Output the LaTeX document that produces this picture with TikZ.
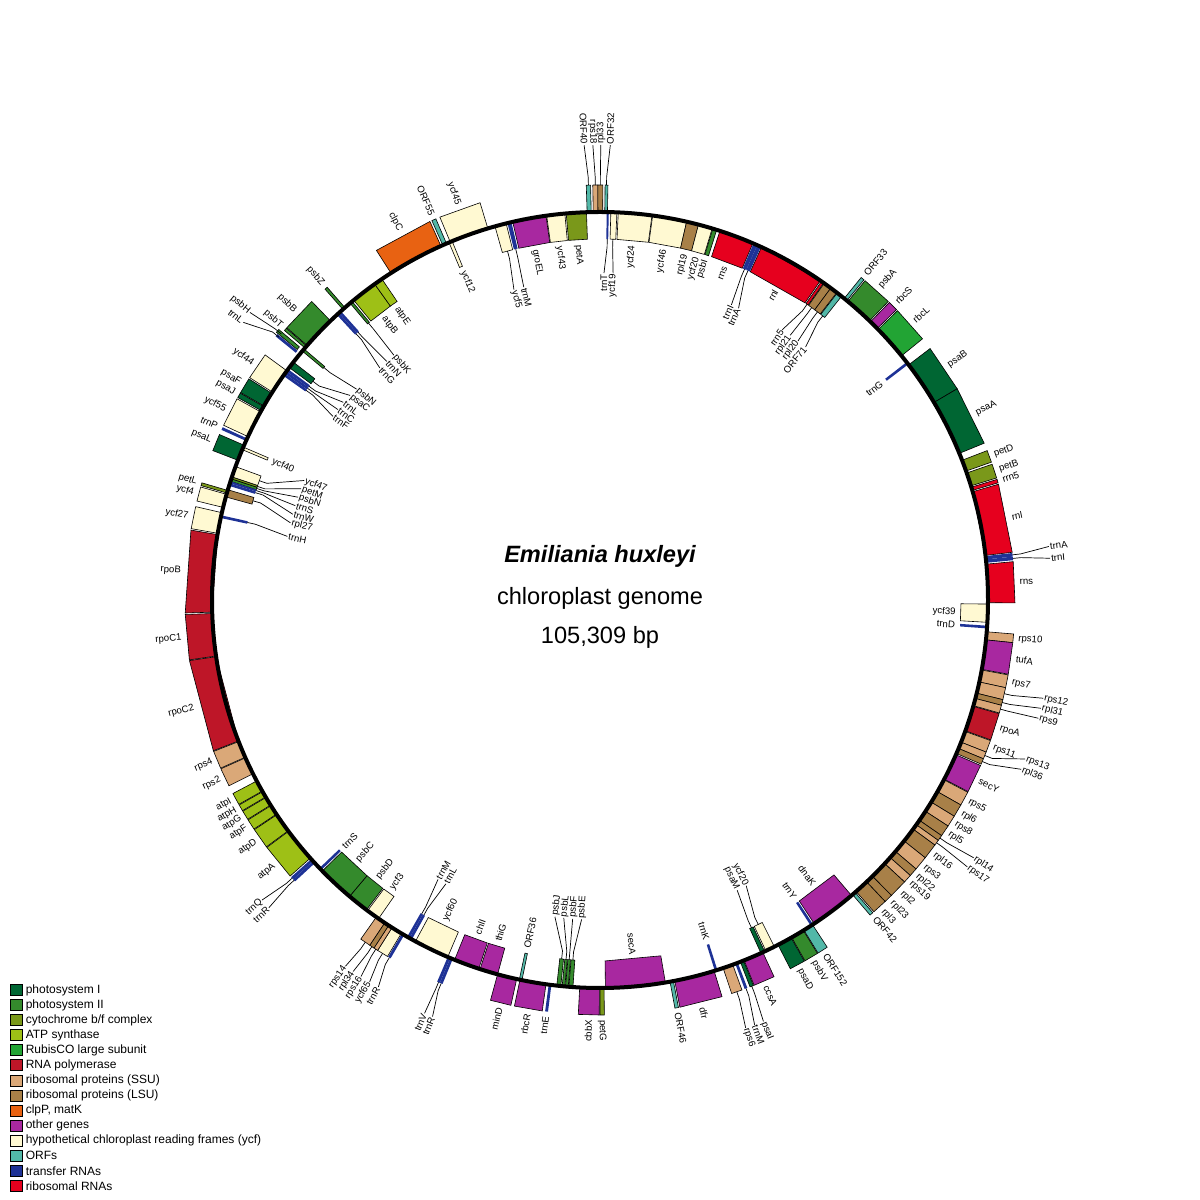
\documentclass[tikz,border=0pt]{standalone}
\usepackage{fontspec}
\setmainfont{Liberation Sans}
\usetikzlibrary{positioning}

\definecolor{psIgreen}{RGB}{0,102,51}
\definecolor{psIIgreen}{RGB}{52,138,44}
\definecolor{cytolive}{RGB}{122,152,26}
\definecolor{atplime}{RGB}{158,192,22}
\definecolor{rubgreen}{RGB}{34,164,52}
\definecolor{rnapred}{RGB}{190,22,40}
\definecolor{ssutan}{RGB}{218,168,120}
\definecolor{lsubrown}{RGB}{168,128,72}
\definecolor{clporange}{RGB}{232,98,18}
\definecolor{otherpurple}{RGB}{168,40,160}
\definecolor{ycfcream}{RGB}{255,249,210}
\definecolor{orfteal}{RGB}{82,184,168}
\definecolor{trnablue}{RGB}{30,50,150}
\definecolor{rrnared}{RGB}{230,0,30}

\tikzset{
  gbox/.style={draw=black, line width=0.3pt},
  glabel/.style={font=\fontsize{4.8}{5}\selectfont, inner sep=0.4pt},
  leader/.style={line width=0.35pt},
  legbox/.style={draw=black, line width=0.35pt, minimum width=6pt, minimum height=5.5pt, inner sep=0pt},
  legtext/.style={font=\fontsize{6}{7}\selectfont, inner sep=0pt},
  titletext/.style={font=\fontsize{11.8}{14}\selectfont},
}

\begin{document}
\begin{tikzpicture}[x=0.5pt, y=0.5pt]
  \useasboundingbox (0,0) rectangle (1200,1200);

  \begin{scope}[shift={(600,600)}]
    % genes (start/end angle, side, colour)
    \foreach \gA/\gB/\gS/\gC in {
      1.6/2.5/-1/ycfcream, 2.7/7.7/-1/ycfcream, 7.8/12.9/-1/ycfcream, 12.9/14.7/-1/lsubrown,
      14.7/16.8/-1/ycfcream, 16.9/17.5/-1/psIIgreen, 18.0/23.2/-1/rrnared, 24.6/34.6/-1/rrnared,
      34.8/35.2/-1/rrnared, 35.3/36.5/-1/lsubrown, 36.5/37.6/-1/lsubrown, 37.7/38.5/-1/orfteal,
      39.0/39.5/1/orfteal, 39.7/44.0/1/psIIgreen, 44.2/45.6/1/otherpurple, 45.8/51.0/1/rubgreen,
      52.7/59.4/1/psIgreen, 59.4/67.8/1/psIgreen, 68.9/70.6/1/cytolive, 70.9/72.9/1/cytolive,
      73.1/73.6/1/rrnared, 73.8/83.4/1/rrnared, 84.7/90.4/1/rrnared, 90.6/93.3/-1/ycfcream,
      94.7/95.9/1/ssutan, 95.9/100.3/1/otherpurple, 100.4/102.2/1/ssutan, 102.2/103.9/1/ssutan,
      103.9/104.7/1/lsubrown, 104.7/105.8/1/ssutan, 105.9/109.7/1/rnapred, 109.8/111.5/1/ssutan,
      111.5/112.5/1/ssutan, 112.5/113.3/1/lsubrown, 113.5/117.5/1/otherpurple,
      117.6/119.6/1/ssutan, 119.6/121.4/1/lsubrown, 121.4/123.0/1/ssutan, 123.0/124.6/1/lsubrown,
      124.6/125.4/1/lsubrown, 125.4/126.2/1/ssutan, 126.2/128.4/1/lsubrown, 128.4/130.4/1/ssutan,
      130.4/131.6/1/lsubrown, 131.6/132.8/1/ssutan, 132.8/135.4/1/lsubrown, 135.4/136.6/1/lsubrown,
      136.6/138.7/1/lsubrown, 138.9/139.4/1/orfteal, 139.6/146.5/-1/otherpurple,
      146.8/148.3/1/orfteal, 148.4/150.4/1/psIIgreen, 150.5/152.7/1/psIgreen,
      153.3/154.7/-1/ycfcream, 154.9/155.5/-1/psIgreen, 155.2/158.2/1/otherpurple,
      158.3/158.8/1/psIgreen, 160.0/161.5/1/ssutan, 162.9/168.9/1/otherpurple,
      169.1/169.6/1/orfteal, 170.3/179.2/-1/otherpurple, 179.4/180.0/1/cytolive,
      180.1/183.0/1/otherpurple, 184.0/184.6/-1/psIIgreen, 184.7/185.1/-1/psIIgreen,
      185.2/185.6/-1/psIIgreen, 185.8/186.4/-1/psIIgreen, 188.0/191.9/1/otherpurple,
      191.6/192.0/-1/orfteal, 192.4/195.3/1/otherpurple, 195.3/198.0/-1/otherpurple,
      198.2/202.0/-1/otherpurple, 203.1/208.4/-1/ycfcream, 210.8/212.4/1/ycfcream,
      212.4/213.0/1/ssutan, 213.0/213.7/1/lsubrown, 213.7/215.2/1/ssutan, 214.8/216.8/-1/ycfcream,
      217.0/220.2/-1/psIIgreen, 220.2/225.7/-1/psIIgreen, 228.3/233.4/1/atplime,
      233.5/236.4/1/atplime, 236.5/238.0/1/atplime, 238.1/239.4/1/atplime, 239.5/240.4/1/atplime,
      240.5/242.2/1/atplime, 243.4/246.0/1/ssutan, 246.1/248.6/1/ssutan, 248.7/261.6/1/rnapred,
      261.7/268.0/1/rnapred, 268.2/279.7/1/rnapred, 279.9/283.0/1/ycfcream, 283.8/285.8/1/ycfcream,
      285.4/286.5/-1/lsubrown, 286.0/286.4/1/cytolive, 287.8/288.2/-1/psIIgreen,
      288.2/288.5/-1/cytolive, 288.5/290.1/-1/ycfcream, 291.1/293.5/1/psIgreen,
      292.8/293.2/-1/ycfcream, 294.9/299.0/1/ycfcream, 299.2/299.9/1/psIgreen,
      300.0/302.2/1/psIgreen, 302.4/306.2/1/ycfcream, 306.8/307.8/-1/psIgreen,
      309.9/310.3/-1/psIIgreen, 310.5/310.9/1/psIIgreen, 311.0/316.0/1/psIIgreen,
      318.5/318.9/1/psIIgreen, 319.9/320.3/-1/psIIgreen, 320.6/324.5/-1/atplime,
      324.5/325.8/-1/atplime, 327.4/335.8/1/clporange, 336.1/336.7/1/orfteal,
      337.1/337.6/-1/ycfcream, 337.3/343.2/1/ycfcream, 344.3/346.0/-1/ycfcream,
      347.0/352.0/-1/otherpurple, 352.1/354.8/-1/ycfcream, 355.0/358.0/-1/cytolive,
      358.1/358.7/1/orfteal, 359.0/359.7/1/ssutan, 359.7/360.4/1/lsubrown, 0.7/1.1/1/orfteal}{
      \pgfmathsetmacro\rr{388+27*\gS}
      \filldraw[gbox, fill=\gC] (90-\gA:388) -- (90-\gB:388) -- (90-\gB:\rr) -- (90-\gA:\rr) -- cycle;
    }

    % transfer RNAs
    \foreach \gA/\gB/\gS in {
      23.3/23.9/-1, 23.9/24.5/-1, 52.2/52.6/-1, 83.5/84.0/1, 84.0/84.5/1, 93.8/94.2/-1,
      146.7/147.1/-1, 159.2/159.6/1, 162.4/162.8/-1, 187.2/187.6/1, 202.3/202.7/1, 202.7/203.1/1,
      209.0/209.4/-1, 209.4/209.8/-1, 210.3/210.7/1, 225.9/226.3/-1, 227.3/227.7/1, 227.7/228.1/1,
      282.2/282.6/-1, 287.1/287.5/-1, 287.5/287.8/-1, 294.2/294.6/1, 305.3/305.7/-1,
      305.7/306.1/-1, 306.1/306.5/-1, 317.3/317.7/-1, 317.7/318.1/-1, 346.2/346.8/-1, 1.0/1.3/-1}{
      \pgfmathsetmacro\rr{388+27*\gS}
      \fill[trnablue] (90-\gA:388) -- (90-\gB:388) -- (90-\gB:\rr) -- (90-\gA:\rr) -- cycle;
    }
    % stacked genes outside the ring
    \fill[trnablue] (90-309.1:392) -- (90-309.5:392) -- (90-309.5:418) -- (90-309.1:418) -- cycle;
    \filldraw[gbox, fill=psIIgreen] (90-309.6:393) -- (90-310.1:393) -- (90-310.1:420) -- (90-309.6:420) -- cycle;

    % ring
    \draw[line width=2pt] (0,0) circle (388);

    % labels next to their genes
    \foreach \m/\s/\t [count=\i] in {
      5.2/-1/ycf24, 10.35/-1/ycf46, 13.8/-1/rpl19, 15.75/-1/ycf20, 17.2/-1/psbI, 20.6/-1/rns,
      29.6/-1/rnl, 39.25/1/ORF33, 41.85/1/psbA, 44.9/1/rbcS, 48.4/1/rbcL, 52.4/-1/trnG,
      56.05/1/psaB, 63.6/1/psaA, 69.75/1/petD, 71.9/1/petB, 73.35/1/rrn5, 78.6/1/rnl,
      87.55/1/rns, 91.95/-1/ycf39, 94.0/-1/trnD, 95.3/1/rps10, 98.1/1/tufA, 101.3/1/rps7,
      107.8/1/rpoA, 110.6/1/rps11, 115.5/1/secY, 118.6/1/rps5, 120.5/1/rpl6, 122.2/1/rps8,
      123.8/1/rpl5, 127.3/1/rpl16, 129.4/1/rps3, 131.0/1/rpl22, 132.3/1/rps19, 134.1/1/rpl2,
      136.0/1/rpl23, 137.65/1/rpl3, 139.15/1/ORF42, 143.05/-1/dnaK, 146.9/-1/trnY,
      147.55/1/ORF152, 149.4/1/psbV, 151.6/1/psaD, 156.7/1/ccsA, 162.6/-1/trnK, 165.9/1/dfr,
      169.35/1/ORF46, 174.75/-1/secA, 179.7/1/petG, 181.55/1/cbbX, 187.4/1/trnE, 189.95/1/rbcR,
      191.8/-1/ORF36, 193.85/1/minD, 196.65/-1/thiG, 200.1/-1/chlI, 205.75/-1/ycf60,
      215.8/-1/ycf3, 218.6/-1/psbD, 222.95/-1/psbC, 226.1/-1/trnS, 230.85/1/atpA,
      234.95/1/atpD, 237.25/1/atpF, 238.75/1/atpG, 240.05/1/atpH, 241.45/1/atpI, 244.7/1/rps2,
      247.35/1/rps4, 255.15/1/rpoC2, 264.85/1/rpoC1, 273.95/1/rpoB, 281.45/1/ycf27,
      284.8/1/ycf4, 286.3/1/petL, 292.3/1/psaL, 293.0/-1/ycf40, 294.4/1/trnP, 296.95/1/ycf55,
      299.55/1/psaJ, 301.1/1/psaF, 304.3/1/ycf44, 310.7/1/psbT, 313.5/1/psbB, 318.7/1/psbZ,
      322.55/-1/atpB, 325.15/-1/atpE, 331.6/1/clpC, 336.45/1/ORF55, 337.4/-1/ycf12,
      340.25/1/ycf45, 349.5/-1/groEL, 353.45/-1/ycf43, 356.5/-1/petA}{
      \pgfmathsetmacro\rot{\m<180 ? 90-\m : 270-\m}
      \pgfmathsetmacro\rr{\s>0 ? 419 : 357}
      \pgfmathtruncatemacro\k{(\m<180)==(\s>0)}
      \ifnum\k=1 \def\anc{west}\else\def\anc{east}\fi
      \node[glabel, anchor=\anc, rotate=\rot] (D\i) at (90-\m:\rr) {\t};
    }

    % labels moved aside, with leaders (gene angle, side, label angle, label radius)
    \foreach \m/\s/\p/\q/\t [count=\i] in {
      358.4/1/358.0/455/ORF40, 359.35/1/359.1/455/rps18, 0.05/1/0.1/455/rpl33, 0.9/1/1.3/455/ORF32,
      1.15/-1/0.7/327/trnT, 2.05/-1/2.3/327/ycf19, 345.15/-1/344.5/322/ycf5, 346.5/-1/346.3/322/trnM,
      23.6/-1/24.0/323/trnI, 24.2/-1/25.4/323/trnA, 35.0/-1/34.0/326/rrn5, 35.9/-1/35.7/326/rpl21,
      37.05/-1/37.4/326/rpl20, 38.1/-1/39.1/326/ORF71, 83.75/1/83.2/452/trnA, 84.25/1/84.7/452/trnI,
      103.05/1/102.5/454/rps12, 104.3/1/103.8/454/rpl31, 105.25/1/105.1/454/rps9,
      112.0/1/110.5/454/rps13, 112.9/1/111.9/454/rpl36, 125.0/1/124.6/454/rpl14,
      125.8/1/126.0/454/rps17, 154.0/-1/152.9/321/ycf20, 155.2/-1/154.7/321/psaM,
      158.55/1/158.8/452/psaI, 159.4/1/160.0/452/trnM, 160.75/1/161.2/452/rps6,
      184.3/-1/183.3/320/psbE, 184.9/-1/184.9/320/psbF, 185.4/-1/186.5/320/psbL,
      186.1/-1/188.1/320/psbJ, 202.5/1/201.9/449/trnR, 202.9/1/203.0/449/trnV,
      209.2/-1/208.5/323/trnL, 209.6/-1/210.1/323/trnM, 210.5/1/209.8/446/trnR,
      211.6/1/211.1/446/ycf65, 212.7/1/212.4/446/rps16, 213.35/1/213.6/446/rpl34,
      214.45/1/214.8/446/rps14, 227.5/1/227.1/452/trnR, 227.9/1/228.4/452/trnQ,
      282.4/-1/281.5/319/trnH, 285.95/-1/284.0/319/rpl27, 287.3/-1/285.6/319/trnW,
      287.65/-1/287.2/319/trnS, 288.0/-1/288.8/319/psbN, 288.35/-1/290.4/319/petM,
      289.3/-1/292.0/319/ycf47, 305.5/-1/304.5/324/trnF, 305.9/-1/306.0/324/trnC,
      306.3/-1/307.6/324/trnL, 307.3/-1/309.3/323/psaC, 310.1/-1/310.9/322/psbN,
      309.3/1/307.9/452/trnL, 309.85/1/309.4/453/psbH, 317.5/-1/316.5/320/trnG,
      317.9/-1/318.2/320/trnN, 320.1/-1/319.9/320/psbK}{
      \pgfmathsetmacro\rot{\p<180 ? 90-\p : 270-\p}
      \pgfmathtruncatemacro\k{(\p<180)==(\s>0)}
      \ifnum\k=1 \def\anc{west}\else\def\anc{east}\fi
      \pgfmathsetmacro\re{388+27*\s}
      \pgfmathsetmacro\rk{388+35*\s}
      \coordinate (G\i) at (90-\m:\re);
      \node[glabel, anchor=\anc, rotate=\rot] (P\i) at (90-\p:\q) {\t};
      \draw[leader] (G\i) -- (90-\m:\rk) -- (P\i.\anc);
    }

    % title
    \node[titletext, font=\fontsize{11.8}{14}\selectfont\bfseries\itshape] (species) at (0,43.5) {Emiliania huxleyi};
    \node[titletext] (kind) at (0,1.5) {chloroplast genome};
    \node[titletext] (size) at (0,-37.5) {105,309 bp};
  \end{scope}

  % legend
  \foreach \c/\t [count=\i from 0] in {psIgreen/photosystem I, psIIgreen/photosystem II,
      cytolive/{cytochrome b/f complex}, atplime/ATP synthase, rubgreen/RubisCO large subunit,
      rnapred/RNA polymerase, ssutan/ribosomal proteins (SSU), lsubrown/ribosomal proteins (LSU),
      clporange/{clpP, matK}, otherpurple/other genes,
      ycfcream/hypothetical chloroplast reading frames (ycf), orfteal/ORFs,
      trnablue/transfer RNAs, rrnared/ribosomal RNAs}{
    \node[legbox, fill=\c] (K\i) at (16, 210-15.07*\i) {};
    \node[legtext, right=1.5pt of K\i] (T\i) {\t};
  }
\end{tikzpicture}
\end{document}
